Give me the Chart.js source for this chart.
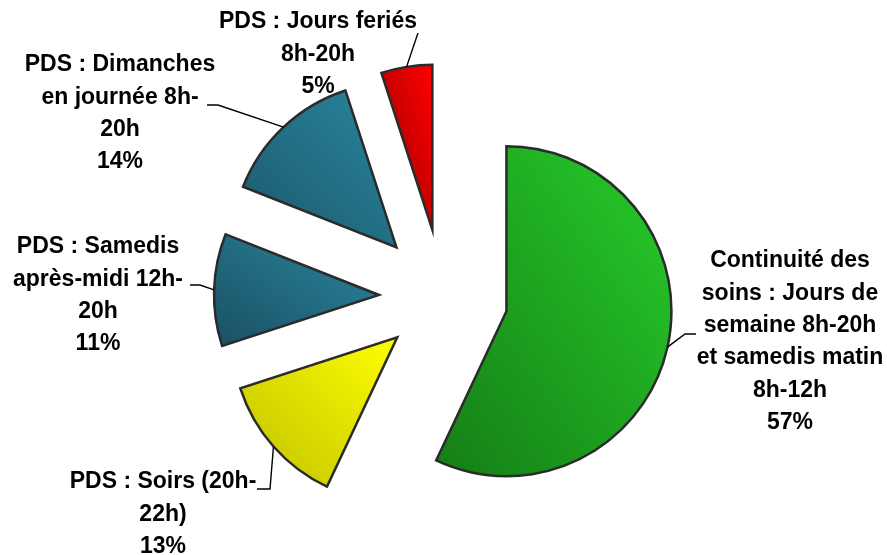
<!DOCTYPE html>
<html>
<head>
<meta charset="utf-8">
<script src="https://cdn.jsdelivr.net/npm/chart.js@4.4.1/dist/chart.umd.min.js"></script>
<style>
  html, body { margin: 0; padding: 0; background: #fff; }
  #wrap { width: 887px; height: 555px; }
</style>
</head>
<body>
<div id="wrap"><canvas id="chart" width="887" height="555"></canvas></div>
<script>
// data
const categories = [
  'Continuité des soins : Jours de semaine 8h-20h et samedis matin 8h-12h',
  'PDS : Soirs (20h-22h)',
  'PDS : Samedis après-midi 12h-20h',
  'PDS : Dimanches en journée 8h-20h',
  'PDS : Jours feriés 8h-20h'
];
const shares = [57, 13, 11, 14, 5];
const labelLines = [
  ['Continuité des', 'soins : Jours de', 'semaine 8h-20h', 'et samedis matin', '8h-12h'],
  ['PDS : Soirs (20h-', '22h)'],
  ['PDS : Samedis', 'après-midi 12h-', '20h'],
  ['PDS : Dimanches', 'en journée 8h-', '20h'],
  ['PDS : Jours feriés', '8h-20h']
];

// look
const RADIUS = 165;
const EXPLODE = [65, 61, 64, 68, 68];
const darkColors = ['#157d15', '#c0c000', '#1a5063', '#1b586b', '#980000'];
const lightColors = ['#27cd2b', '#ffff00', '#2a879f', '#2a869e', '#ff0000'];
const labelPos = [
  { x: 790, y: 261, lead: [[696, 334], [685, 334]] },
  { x: 163, y: 482, lead: [[257, 489], [270, 489]] },
  { x: 98, y: 247, lead: [[190, 285], [200, 285]] },
  { x: 120, y: 65, lead: [[207, 105], [218, 105]] },
  { x: 318, y: 22, lead: [[418, 33]] }
];
const FONT = 'bold 23px "Liberation Sans", Arial, sans-serif';
const LINE_H = 32.3;

// geometry of a slice, for its gradient
function sliceGradient(chart, i) {
  const area = chart.chartArea;
  if (!area) return lightColors[i];
  const total = shares.reduce((a, b) => a + b, 0);
  let start = -Math.PI / 2;
  for (let k = 0; k < i; k++) start += shares[k] / total * Math.PI * 2;
  const end = start + shares[i] / total * Math.PI * 2;
  const mid = (start + end) / 2;
  const cx = (area.left + area.right) / 2 + Math.cos(mid) * EXPLODE[i];
  const cy = (area.top + area.bottom) / 2 + Math.sin(mid) * EXPLODE[i];
  let x0 = cx, x1 = cx, y0 = cy, y1 = cy;
  for (let s = 0; s <= 40; s++) {
    const a = start + (end - start) * s / 40;
    const px = cx + Math.cos(a) * RADIUS, py = cy + Math.sin(a) * RADIUS;
    x0 = Math.min(x0, px); x1 = Math.max(x1, px);
    y0 = Math.min(y0, py); y1 = Math.max(y1, py);
  }
  const w = x1 - x0, h = y1 - y0;
  const len = Math.hypot(w, h);
  const nx = h / len, ny = -w / len;
  const L = 2 * w * h / len;
  const g = chart.ctx.createLinearGradient(x0, y1, x0 + nx * L, y1 + ny * L);
  g.addColorStop(0, darkColors[i]);
  g.addColorStop(1, lightColors[i]);
  return g;
}

const explodePlugin = {
  id: 'explode',
  afterDatasetUpdate(chart, args) {
    args.meta.data.forEach((arc, i) => {
      const mid = (arc.startAngle + arc.endAngle) / 2;
      arc.x += Math.cos(mid) * EXPLODE[i];
      arc.y += Math.sin(mid) * EXPLODE[i];
    });
  }
};

const labelPlugin = {
  id: 'sliceLabels',
  afterDraw(chart) {
    const ctx = chart.ctx;
    const arcs = chart.getDatasetMeta(0).data;
    ctx.save();
    // leader lines
    ctx.strokeStyle = '#000';
    ctx.lineWidth = 1.4;
    arcs.forEach((arc, i) => {
      const mid = (arc.startAngle + arc.endAngle) / 2;
      const px = arc.x + Math.cos(mid) * arc.outerRadius;
      const py = arc.y + Math.sin(mid) * arc.outerRadius;
      const pts = labelPos[i].lead;
      ctx.beginPath();
      ctx.moveTo(pts[0][0], pts[0][1]);
      for (let k = 1; k < pts.length; k++) ctx.lineTo(pts[k][0], pts[k][1]);
      ctx.lineTo(px, py);
      ctx.stroke();
    });
    // texts
    ctx.fillStyle = '#000';
    ctx.font = FONT;
    ctx.textAlign = 'center';
    ctx.textBaseline = 'middle';
    labelLines.forEach((lines, i) => {
      const all = lines.concat([shares[i] + '%']);
      all.forEach((t, k) => ctx.fillText(t, labelPos[i].x, labelPos[i].y + k * LINE_H));
    });
    ctx.restore();
  }
};

new Chart(document.getElementById('chart'), {
  type: 'pie',
  data: {
    labels: categories,
    datasets: [{
      data: shares,
      radius: RADIUS,
      backgroundColor: c => sliceGradient(c.chart, c.dataIndex),
      borderColor: '#2b2b2b',
      borderWidth: 2.5,
      borderJoinStyle: 'miter',
      clip: false
    }]
  },
  options: {
    responsive: false,
    animation: false,
    events: [],
    layout: { padding: { left: 100, right: 101, top: 60, bottom: 21 } },
    plugins: {
      legend: { display: false },
      tooltip: { enabled: false }
    }
  },
  plugins: [explodePlugin, labelPlugin]
});
</script>
</body>
</html>
